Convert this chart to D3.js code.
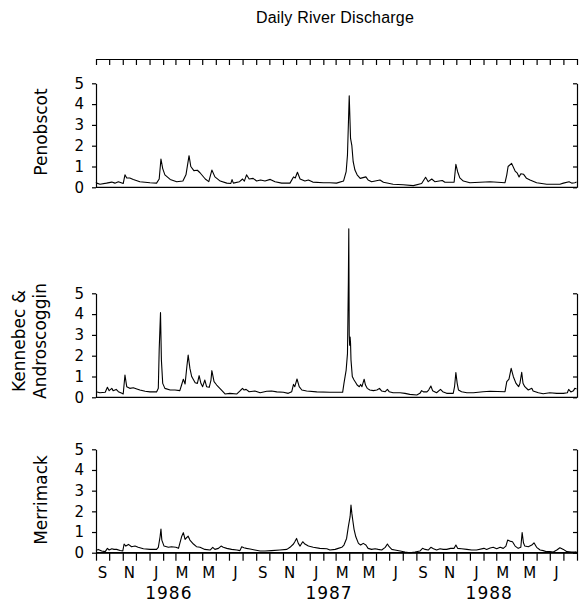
<!DOCTYPE html>
<html>
<head>
<meta charset="utf-8">
<script src="https://cdn.jsdelivr.net/npm/d3@7"></script>
<style>
  body { margin: 0; background: #fff; }
  text { font-family: "DejaVu Sans", sans-serif; fill: #000; }
  .axis path, .axis line { stroke: #000; stroke-width: 1.2; }
</style>
</head>
<body>
<svg id="chart"></svg>
<script>
// record starts 1 Sep 1985, values are [days since start, discharge]
var startDate = new Date(1985, 8, 1),
    endDate = new Date(1988, 8, 1);

var penobscot = [
  [0,0.25],[2,0.2],[9,0.15],[24,0.2],[36,0.25],[43,0.2],[51,0.27],[62,0.18],[66,0.6],[70,0.45],
  [77,0.45],[85,0.38],[100,0.27],[123,0.22],[138,0.2],[144,0.4],[148,1.36],[152,0.9],[157,0.6],
  [169,0.38],[184,0.27],[198,0.3],[205,0.6],[212,1.52],[216,1.0],[223,0.8],[231,0.82],[237,0.7],
  [249,0.4],[257,0.27],[264,0.83],[271,0.5],[283,0.3],[298,0.2],[307,0.18],[310,0.37],[313,0.2],
  [327,0.27],[334,0.4],[338,0.3],[343,0.6],[349,0.4],[358,0.43],[366,0.3],[375,0.35],[385,0.3],
  [397,0.38],[408,0.27],[423,0.2],[442,0.2],[450,0.5],[454,0.45],[459,0.72],[465,0.4],[476,0.3],
  [484,0.35],[494,0.25],[518,0.22],[533,0.22],[548,0.2],[564,0.3],[570,0.75],[573,1.55],[577,4.4],
  [580,2.35],[583,2.0],[586,1.23],[590,0.83],[595,0.6],[602,0.43],[615,0.5],[620,0.35],[628,0.27],
  [647,0.35],[655,0.24],[677,0.15],[700,0.12],[723,0.08],[742,0.18],[751,0.48],[757,0.27],[765,0.4],
  [772,0.27],[789,0.33],[795,0.24],[816,0.24],[820,1.1],[824,0.75],[829,0.45],[837,0.3],[852,0.22],
  [898,0.27],[932,0.22],[936,0.6],[939,1.0],[947,1.15],[955,0.78],[960,0.68],[964,0.5],[968,0.65],
  [974,0.63],[981,0.43],[989,0.35],[1004,0.22],[1027,0.15],[1057,0.15],[1065,0.2],[1078,0.27],
  [1084,0.2],[1091,0.22],[1095,0.25]
];

var kennebec = [
  [0,0.27],[9,0.22],[21,0.24],[26,0.48],[30,0.32],[36,0.43],[39,0.32],[46,0.38],[51,0.27],[59,0.19],
  [62,0.16],[66,1.07],[70,0.51],[77,0.43],[85,0.46],[93,0.4],[100,0.35],[112,0.29],[123,0.26],
  [138,0.26],[142,0.43],[144,2.3],[147,4.07],[149,1.8],[152,0.67],[157,0.43],[169,0.35],[180,0.35],
  [191,0.32],[195,0.59],[199,0.87],[203,0.64],[207,1.47],[210,2.03],[214,1.39],[218,1.0],[226,0.7],
  [231,0.67],[235,1.04],[239,0.67],[243,0.51],[248,0.83],[252,0.51],[258,0.48],[262,0.83],[264,1.28],
  [269,0.75],[275,0.59],[286,0.35],[294,0.16],[305,0.19],[321,0.16],[330,0.35],[334,0.43],[337,0.35],
  [342,0.38],[349,0.27],[362,0.3],[374,0.22],[389,0.29],[400,0.3],[412,0.26],[427,0.24],[438,0.19],
  [446,0.27],[450,0.62],[453,0.51],[458,0.88],[463,0.51],[469,0.35],[480,0.3],[503,0.26],[533,0.24],
  [562,0.24],[565,0.67],[570,1.31],[573,2.1],[575,5.5],[576,8.1],[577,3.0],[578,2.5],[579,2.9],
  [580,2.6],[581,1.8],[584,1.0],[588,0.83],[592,0.7],[595,0.59],[600,0.51],[603,0.62],[606,0.51],
  [611,0.87],[614,0.59],[618,0.43],[624,0.35],[632,0.32],[640,0.35],[646,0.43],[651,0.3],[659,0.27],
  [664,0.38],[668,0.27],[677,0.22],[693,0.22],[704,0.19],[715,0.14],[731,0.11],[738,0.19],[742,0.32],
  [746,0.26],[754,0.26],[758,0.35],[763,0.54],[767,0.32],[776,0.22],[785,0.38],[790,0.27],[799,0.19],
  [814,0.19],[817,0.51],[820,1.19],[823,0.67],[826,0.35],[833,0.27],[845,0.22],[860,0.22],[882,0.27],
  [898,0.29],[932,0.27],[936,0.75],[941,0.87],[946,1.39],[951,0.99],[957,0.67],[963,0.51],[966,0.67],
  [970,1.2],[973,0.67],[977,0.51],[985,0.35],[993,0.43],[996,0.3],[1008,0.22],[1019,0.17],[1034,0.22],
  [1050,0.19],[1065,0.19],[1074,0.22],[1077,0.38],[1082,0.26],[1088,0.32],[1091,0.43],[1095,0.4]
];

var merrimack = [
  [0,0.1],[5,0.16],[13,0.08],[21,0.05],[26,0.21],[30,0.13],[36,0.19],[41,0.16],[47,0.16],[55,0.11],
  [61,0.08],[64,0.42],[68,0.32],[74,0.4],[81,0.29],[89,0.32],[96,0.26],[108,0.19],[123,0.16],
  [138,0.16],[142,0.26],[146,0.77],[148,1.14],[150,0.61],[155,0.32],[165,0.26],[172,0.29],[182,0.26],
  [188,0.21],[191,0.45],[195,0.77],[199,0.97],[203,0.64],[207,0.74],[210,0.8],[214,0.61],[222,0.42],
  [229,0.29],[237,0.26],[248,0.16],[260,0.13],[266,0.26],[271,0.16],[279,0.21],[285,0.32],[290,0.26],
  [298,0.21],[309,0.16],[321,0.13],[328,0.1],[332,0.29],[337,0.24],[343,0.21],[351,0.18],[362,0.13],
  [374,0.08],[385,0.08],[400,0.1],[419,0.13],[435,0.16],[442,0.26],[450,0.42],[453,0.53],[457,0.69],
  [461,0.45],[465,0.32],[471,0.53],[476,0.42],[484,0.32],[495,0.26],[510,0.21],[526,0.19],[533,0.13],
  [545,0.16],[552,0.21],[560,0.26],[565,0.37],[571,0.69],[575,1.26],[579,1.74],[581,2.3],[583,1.9],
  [585,1.58],[588,1.13],[592,0.77],[598,0.45],[603,0.37],[609,0.45],[615,0.37],[620,0.21],[628,0.16],
  [636,0.19],[643,0.16],[651,0.13],[659,0.26],[664,0.42],[668,0.29],[674,0.16],[681,0.13],[693,0.08],
  [704,0.03],[715,0.0],[727,0.03],[738,0.08],[744,0.21],[750,0.16],[757,0.13],[763,0.26],[769,0.19],
  [776,0.13],[784,0.19],[791,0.16],[799,0.16],[808,0.21],[816,0.21],[820,0.37],[824,0.21],[833,0.19],
  [845,0.16],[856,0.13],[867,0.13],[884,0.21],[890,0.16],[898,0.23],[905,0.26],[913,0.19],[921,0.26],
  [928,0.21],[934,0.32],[938,0.61],[943,0.56],[949,0.53],[955,0.32],[962,0.21],[968,0.26],[971,0.97],
  [974,0.48],[977,0.32],[985,0.29],[993,0.37],[998,0.48],[1004,0.26],[1012,0.13],[1019,0.1],[1027,0.05],
  [1034,0.06],[1042,0.03],[1050,0.13],[1057,0.24],[1065,0.16],[1073,0.05],[1084,0.03],[1091,0.03],[1095,0.05]
];

var yTicks = [0, 1, 2, 3, 4, 5];
var monthLetters = ["S","N","J","M","M","J","S","N","J","M","M","J","S","N","J","M","M","J"];
var yearLabels = ["1986", "1987", "1988"];

var width = 579, height = 603,
    left = 96, right = 577;

var svg = d3.select("#chart")
    .attr("width", width)
    .attr("height", height);

var x = d3.scaleTime()
    .domain([startDate, endDate])
    .range([left, right]);

// panel vertical extents
var panels = [
  {name: ["Penobscot"], data: penobscot, y0: 187.3, y5: 83.3, labelY: 132},
  {name: ["Kennebec &", "Androscoggin"], data: kennebec, y0: 397.3, y5: 293.3, labelY: 341},
  {name: ["Merrimack"], data: merrimack, y0: 552.7, y5: 449.3, labelY: 500}
];

svg.append("text")
    .attr("x", 335)
    .attr("y", 23)
    .attr("text-anchor", "middle")
    .style("font-family", "'Liberation Sans', sans-serif")
    .style("font-size", "16px")
    .style("letter-spacing", "0.2px")
    .text("Daily River Discharge");

// top axis with month ticks
svg.append("g")
    .attr("class", "axis")
    .attr("transform", "translate(0,59)")
    .call(d3.axisBottom(x)
      .ticks(d3.timeMonth.every(1))
      .tickSize(6)
      .tickSizeOuter(0)
      .tickFormat(""));

panels.forEach(function(p) {
  var y = d3.scaleLinear().domain([0, 5]).range([p.y0, p.y5]);

  svg.append("g")
      .attr("class", "axis")
      .attr("transform", "translate(" + left + ",0)")
      .call(d3.axisLeft(y)
        .tickValues(yTicks)
        .tickSize(4)
        .tickSizeOuter(0)
        .tickPadding(8)
        .tickFormat(d3.format("d")))
      .selectAll("text")
        .style("font-size", "15px");

  svg.append("g")
      .attr("class", "axis")
      .attr("transform", "translate(" + right + ",0)")
      .call(d3.axisRight(y)
        .tickValues(yTicks)
        .tickSize(-4)
        .tickSizeOuter(0)
        .tickFormat(""));

  // zero line
  svg.append("line")
      .attr("x1", left).attr("x2", right)
      .attr("y1", y(0)).attr("y2", y(0))
      .style("stroke", "#000")
      .style("stroke-width", 1.2);

  var line = d3.line()
      .x(function(d) { return x(d3.timeDay.offset(startDate, d[0])); })
      .y(function(d) { return y(d[1]); });

  svg.append("path")
      .datum(p.data)
      .attr("d", line)
      .style("fill", "none")
      .style("stroke", "#000")
      .style("stroke-width", 1.1)
      .style("stroke-linejoin", "round");

  svg.append("text")
      .attr("transform", "translate(" + (p.name.length > 1 ? 25 : 47) + "," + p.labelY + ") rotate(-90)")
      .attr("text-anchor", "middle")
      .style("font-size", "17px")
      .text(p.name[0]);
  if (p.name.length > 1) {
    svg.append("text")
        .attr("transform", "translate(46," + p.labelY + ") rotate(-90)")
        .attr("text-anchor", "middle")
        .style("font-size", "17px")
        .text(p.name[1]);
  }
});

// bottom axis
var bottomY = panels[2].y0;
svg.append("g")
    .attr("class", "axis")
    .attr("transform", "translate(0," + bottomY + ")")
    .call(d3.axisBottom(x)
      .ticks(d3.timeMonth.every(1))
      .tickSize(8)
      .tickSizeOuter(0)
      .tickFormat(""));

var labelMonths = d3.timeMonth.range(startDate, endDate, 2);
svg.append("g")
    .selectAll("text")
    .data(labelMonths)
    .enter()
    .append("text")
    .attr("x", function(d) { return x(d3.timeDay.offset(d, 15)); })
    .attr("y", 578)
    .attr("text-anchor", "middle")
    .style("font-size", "15px")
    .text(function(d, i) { return monthLetters[i]; });

svg.append("g")
    .selectAll("text")
    .data(yearLabels)
    .enter()
    .append("text")
    .attr("x", function(d) { return x(new Date(+d, 1, 14)); })
    .attr("y", 599)
    .attr("text-anchor", "middle")
    .style("font-size", "17px")
    .style("letter-spacing", "1px")
    .text(function(d) { return d; });
</script>
</body>
</html>
